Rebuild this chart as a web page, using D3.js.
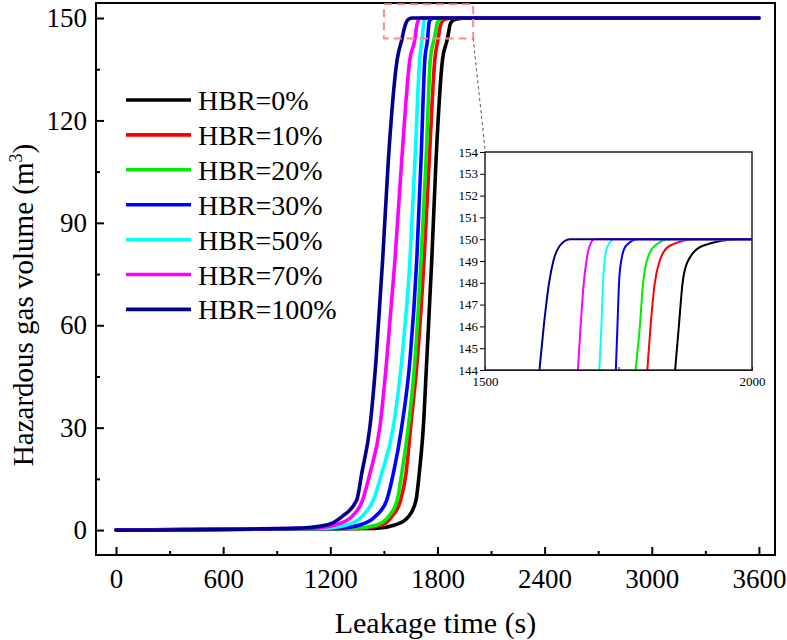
<!DOCTYPE html>
<html>
<head>
<meta charset="utf-8">
<script src="https://cdn.jsdelivr.net/npm/d3@7"></script>
<style>
  body { margin: 0; background: #fff; }
</style>
</head>
<body>
<div id="chart"></div>
<script>
// hazardous gas volume (m3) levels, shared by every series
const volumeLevels = [0, 0.5, 1.5, 3.9, 8.8, 16.6, 30.3, 49.8, 79.1, 108.4, 137.7, 144, 146, 148, 149, 149.7, 150, 150];

// leakage time (s) at which each series reaches the level above
const timeHBR0   = [0, 1450, 1562, 1637, 1680, 1698, 1721, 1740, 1768, 1792, 1828, 1856, 1863, 1870, 1880, 1908, 1976, 3600];
const timeHBR10  = [0, 1360, 1488, 1544, 1594, 1624, 1650, 1687, 1725, 1754, 1785, 1804, 1810, 1818, 1827, 1846, 1895, 3600];
const timeHBR20  = [0, 1330, 1460, 1525, 1575, 1600, 1637, 1674, 1708, 1736, 1760, 1782, 1790, 1796, 1803, 1818, 1846, 3600];
const timeHBR30  = [0, 1230, 1366, 1450, 1516, 1553, 1600, 1646, 1684, 1708, 1729, 1745, 1748, 1751, 1755, 1764, 1786, 3600];
const timeHBR50  = [0, 1150, 1292, 1376, 1441, 1488, 1553, 1600, 1646, 1674, 1700, 1714, 1718, 1721, 1724, 1730, 1743, 3600];
const timeHBR70  = [0, 1080, 1226, 1320, 1381, 1422, 1478, 1516, 1562, 1600, 1645, 1674, 1679, 1685, 1690, 1696, 1705, 3600];
const timeHBR100 = [0, 1000, 1180, 1264, 1348, 1376, 1422, 1456, 1493, 1525, 1574, 1602, 1610, 1620, 1628, 1640, 1659, 3600];

const seriesNames = ["HBR=0%", "HBR=10%", "HBR=20%", "HBR=30%", "HBR=50%", "HBR=70%", "HBR=100%"];
const seriesTimes = [timeHBR0, timeHBR10, timeHBR20, timeHBR30, timeHBR50, timeHBR70, timeHBR100];
const seriesColors = ["#000000", "#ff0000", "#00ee00", "#0000ff", "#00ffff", "#ff00ff", "#00008b"];

const xTicks = [0, 600, 1200, 1800, 2400, 3000, 3600];
const yTicks = [0, 30, 60, 90, 120, 150];
const insetXTicks = [1500, 2000];
const insetYTicks = [144, 145, 146, 147, 148, 149, 150, 151, 152, 153, 154];
const zoomBox = {t0: 1500, t1: 2000, v0: 144, v1: 154};

const width = 787, height = 640;
const frame = {left: 96, right: 775, top: 3, bottom: 555};
const serif = "Liberation Serif";

const svg = d3.select("#chart").append("svg")
    .attr("width", width)
    .attr("height", height);

const x = d3.scaleLinear().domain([-112, 3690]).range([frame.left, frame.right]);
const y = d3.scaleLinear().domain([-7.3, 154.4]).range([frame.bottom, frame.top]);

const series = seriesTimes.map((times, i) => ({
    name: seriesNames[i],
    color: seriesColors[i],
    values: times.map((t, j) => ({t: t, v: volumeLevels[j]}))
}));

// axes (ticks point inward)
const xAxis = svg.append("g")
    .attr("transform", `translate(0,${frame.bottom})`)
    .call(d3.axisBottom(x).tickValues(xTicks).tickSize(-8).tickPadding(14).tickFormat(d3.format("d")));
svg.append("g")
    .attr("transform", `translate(0,${frame.bottom})`)
    .call(d3.axisBottom(x).tickValues(d3.range(300, 3600, 600)).tickSize(-4).tickFormat(""));
const yAxis = svg.append("g")
    .attr("transform", `translate(${frame.left},0)`)
    .call(d3.axisLeft(y).tickValues(yTicks).tickSize(-8).tickPadding(9));
svg.append("g")
    .attr("transform", `translate(${frame.left},0)`)
    .call(d3.axisLeft(y).tickValues(d3.range(15, 150, 30)).tickSize(-4).tickFormat(""));

svg.selectAll(".domain").remove();
svg.selectAll(".tick line").attr("stroke", "#000").attr("stroke-width", 2);
xAxis.attr("font-family", serif).selectAll("text").attr("font-size", 27);
yAxis.attr("font-family", serif).selectAll("text").attr("font-size", 27);

// curves
const line = d3.line()
    .x(d => x(d.t))
    .y(d => y(d.v))
    .curve(d3.curveMonotoneX);

svg.append("g").selectAll("path")
    .data(series)
    .join("path")
    .attr("d", d => line(d.values))
    .attr("fill", "none")
    .attr("stroke", d => d.color)
    .attr("stroke-width", 3.6)
    .attr("stroke-linecap", "round")
    .attr("stroke-linejoin", "round");

// frame
svg.append("rect")
    .attr("x", frame.left).attr("y", frame.top)
    .attr("width", frame.right - frame.left).attr("height", frame.bottom - frame.top)
    .attr("fill", "none").attr("stroke", "#000").attr("stroke-width", 2);

// zoom box on the main plot
svg.append("rect")
    .attr("x", x(zoomBox.t0)).attr("y", y(zoomBox.v1))
    .attr("width", x(zoomBox.t1) - x(zoomBox.t0))
    .attr("height", y(zoomBox.v0) - y(zoomBox.v1))
    .attr("fill", "none")
    .attr("stroke", "#ff8a8a")
    .attr("stroke-width", 2)
    .attr("stroke-dasharray", "8,5");

// inset
const inset = {left: 485, right: 752, top: 152, bottom: 370};
const ix = d3.scaleLinear().domain([zoomBox.t0, zoomBox.t1]).range([inset.left, inset.right]);
const iy = d3.scaleLinear().domain([zoomBox.v0, zoomBox.v1]).range([inset.bottom, inset.top]);

svg.append("line")
    .attr("x1", x(zoomBox.t1)).attr("y1", y(zoomBox.v0))
    .attr("x2", inset.left).attr("y2", inset.top - 3)
    .attr("stroke", "#555").attr("stroke-width", 1)
    .attr("stroke-dasharray", "3,3");

svg.append("defs").append("clipPath").attr("id", "insetClip")
    .append("rect")
    .attr("x", inset.left).attr("y", inset.top)
    .attr("width", inset.right - inset.left).attr("height", inset.bottom - inset.top);

svg.append("rect")
    .attr("x", inset.left).attr("y", inset.top)
    .attr("width", inset.right - inset.left).attr("height", inset.bottom - inset.top)
    .attr("fill", "#fff");

const insetLine = d3.line()
    .x(d => ix(d.t))
    .y(d => iy(d.v))
    .curve(d3.curveMonotoneX);

svg.append("g").attr("clip-path", "url(#insetClip)")
    .selectAll("path")
    .data(series)
    .join("path")
    .attr("d", d => insetLine(d.values))
    .attr("fill", "none")
    .attr("stroke", d => d.color)
    .attr("stroke-width", 2);

const iyAxis = svg.append("g")
    .attr("transform", `translate(${inset.left},0)`)
    .call(d3.axisLeft(iy).tickValues(insetYTicks).tickSize(5).tickPadding(2));
const ixAxis = svg.append("g")
    .attr("transform", `translate(0,${inset.bottom})`)
    .call(d3.axisBottom(ix).tickValues(insetXTicks).tickSize(0).tickPadding(7).tickFormat(d3.format("d")));
svg.append("g")
    .attr("transform", `translate(0,${inset.bottom})`)
    .call(d3.axisBottom(ix).tickValues([1750]).tickSize(-3).tickFormat(""));

[iyAxis, ixAxis].forEach(g => {
    g.attr("font-family", serif);
    g.select(".domain").remove();
    g.selectAll("text").attr("font-size", 13);
});
svg.selectAll(".tick line").attr("stroke", "#000");

svg.append("rect")
    .attr("x", inset.left).attr("y", inset.top)
    .attr("width", inset.right - inset.left).attr("height", inset.bottom - inset.top)
    .attr("fill", "none").attr("stroke", "#222").attr("stroke-width", 1.5);

// legend
const legend = svg.append("g").attr("transform", "translate(126,100)");
const rows = legend.selectAll("g")
    .data(series)
    .join("g")
    .attr("transform", (d, i) => `translate(0,${i * 34.9})`);
rows.append("line")
    .attr("x1", 0).attr("x2", 65)
    .attr("stroke", d => d.color)
    .attr("stroke-width", 3.6);
rows.append("text")
    .attr("x", 72).attr("y", 10)
    .attr("font-size", 28)
    .text(d => d.name);

// axis titles
svg.append("text")
    .attr("x", (frame.left + frame.right) / 2)
    .attr("y", 633)
    .attr("text-anchor", "middle")
    .attr("font-size", 30)
    .text("Leakage time (s)");

const yTitle = svg.append("text")
    .attr("transform", "translate(33,305) rotate(-90)")
    .attr("text-anchor", "middle")
    .attr("font-size", 29);
yTitle.append("tspan").text("Hazardous gas volume (m");
yTitle.append("tspan").attr("font-size", 18).attr("dy", -11).text("3");
yTitle.append("tspan").attr("dy", 11).text(")");

svg.selectAll("text").attr("font-family", serif).attr("fill", "#000");
</script>
</body>
</html>
